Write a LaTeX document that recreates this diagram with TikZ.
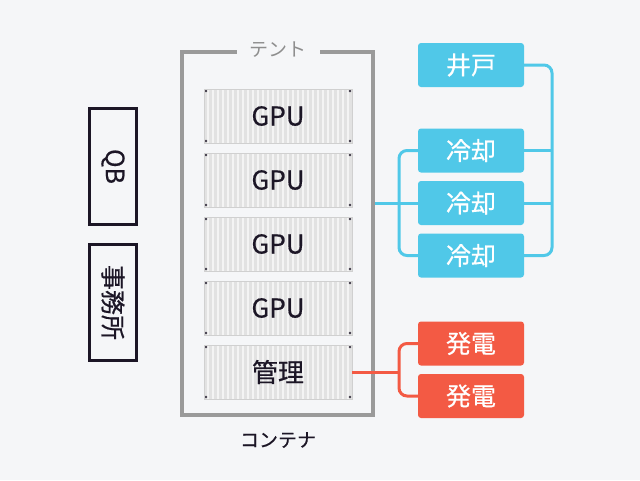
\documentclass[tikz,border=0pt]{standalone}
\usepackage{fontspec}
\setmainfont{Noto Sans CJK JP}
\newfontfamily\medfont{Noto Sans CJK JP}[FakeBold=0.5]

\definecolor{bgc}{HTML}{F5F6F8}
\definecolor{ink}{HTML}{1C1626}
\definecolor{tentgray}{HTML}{9A9A9A}
\definecolor{labelgray}{HTML}{8E8E8E}
\definecolor{boxfill}{HTML}{E2E2E2}
\definecolor{boxline}{HTML}{D0D0D0}
\definecolor{ribc}{HTML}{F4F4F4}
\definecolor{waterblue}{HTML}{50C8E8}
\definecolor{powerred}{HTML}{F35A44}

\begin{document}
\begin{tikzpicture}[x=1pt,y=-1pt,
  container/.style={draw=boxline,fill=boxfill,minimum width=148pt,minimum height=54pt,
    inner sep=0pt,text=ink,font=\medfont\fontsize{26}{28}\selectfont,
    path picture={
      \foreach \i in {0,...,28}
        \draw[ribc,line width=1.6pt] ([xshift=\i*5pt+4pt]path picture bounding box.north west)
          -- ([xshift=\i*5pt+4pt]path picture bounding box.south west);
      \fill[ink!85] ([shift={(2pt,-2pt)}]path picture bounding box.north west) circle (1.4pt);
      \fill[ink!85] ([shift={(-2pt,-2pt)}]path picture bounding box.north east) circle (1.4pt);
      \fill[ink!85] ([shift={(2pt,2pt)}]path picture bounding box.south west) circle (1.4pt);
      \fill[ink!85] ([shift={(-2pt,2pt)}]path picture bounding box.south east) circle (1.4pt);
    }},
  unitbox/.style={text=white,rounded corners=3pt,minimum width=106pt,minimum height=44pt,
    inner sep=0pt,font=\medfont\fontsize{25}{28}\selectfont},
  sidebox/.style={draw=ink,line width=3pt,minimum width=116pt,minimum height=47pt,
    rotate=-90,text=ink,font=\medfont\fontsize{25}{28}\selectfont},
  wire/.style={line width=3pt,rounded corners=8pt}]

\useasboundingbox[fill=bgc] (0,0) rectangle (640,480);

% tent
\node (tent) at (277.5,233.5) [draw=tentgray,line width=4pt,minimum width=191pt,minimum height=363pt] {};
\node (tentlabel) at (278,50) [fill=bgc,inner xsep=13pt,inner ysep=2pt,text=labelgray,font=\fontsize{19}{21}\selectfont] {テント};
\node (contlabel) at (278,440) [text=ink,font=\medfont\fontsize{19}{21}\selectfont] {コンテナ};

% containers
\node (gpu1) at (278,116) [container] {GPU};
\node (gpu2) at (278,180) [container] {GPU};
\node (gpu3) at (278,244) [container] {GPU};
\node (gpu4) at (278,308) [container] {GPU};
\node (mgmt) at (278,372) [container] {管理};

% left side
\node (qb) at (113,166.5) [sidebox] {QB};
\node (office) at (113,302.5) [sidebox] {事務所};

% water
\node (well) at (471,65) [unitbox,fill=waterblue] {井戸};
\node (cool1) at (471,150.5) [unitbox,fill=waterblue] {冷却};
\node (cool2) at (471,203) [unitbox,fill=waterblue] {冷却};
\node (cool3) at (471,255.5) [unitbox,fill=waterblue] {冷却};

% power
\node (gen1) at (471,343.5) [unitbox,fill=powerred] {発電};
\node (gen2) at (471,396) [unitbox,fill=powerred] {発電};

\coordinate (rbus) at (552,0);
\coordinate (lbus) at (399,0);

\draw[wire,waterblue] (well.east) -| (rbus |- cool2.east) |- (cool3.east);
\draw[wire,waterblue] (cool1.east) -- (rbus |- cool1.east);
\draw[wire,waterblue] (cool2.east) -- (rbus |- cool2.east);
\draw[wire,waterblue] (tent.east |- cool2.west) -- (cool2.west);
\draw[wire,waterblue] (cool1.west) -| (lbus |- cool2.west) |- (cool3.west);

\draw[wire,powerred] (mgmt.east) -- (lbus |- mgmt.east);
\draw[wire,powerred] (gen1.west) -| (lbus |- mgmt.east) |- (gen2.west);

\end{tikzpicture}
\end{document}
